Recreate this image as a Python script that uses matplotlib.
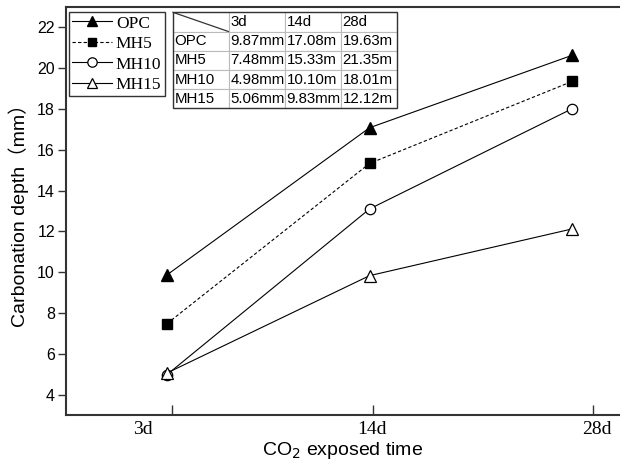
import matplotlib
matplotlib.use("Agg")
import matplotlib.pyplot as plt
from matplotlib.ticker import FixedLocator, NullFormatter, FixedFormatter

ages = ["3d", "14d", "28d"]
opc = [9.87, 17.08, 20.63]
mh5 = [7.48, 15.33, 19.35]
mh10 = [4.98, 13.10, 18.01]
mh15 = [5.06, 9.83, 12.12]

# values shown in the inset table
table_rows = ["OPC", "MH5", "MH10", "MH15"]
table_cells = [
    ["9.87mm", "17.08m", "19.63m"],
    ["7.48mm", "15.33m", "21.35m"],
    ["4.98mm", "10.10m", "18.01m"],
    ["5.06mm", "9.83mm", "12.12m"],
]

serif = "Liberation Serif"
sans = ["Liberation Sans", "Noto Sans CJK SC"]

fig = plt.figure(figsize=(6.2, 4.74), dpi=100)
ax = fig.add_axes([66 / 620, 59 / 474, 554 / 620, 408 / 474])

x = list(range(len(ages)))
lw = 0.8
ax.plot(x, opc, color="black", lw=lw, marker="^", ms=8, mfc="black", mec="black", label="OPC")
ax.plot(x, mh5, color="black", lw=lw, ls=(0, (3, 2)), marker="s", ms=6.5, mfc="black", mec="black", label="MH5")
ax.plot(x, mh10, color="black", lw=lw, marker="o", ms=7.5, mfc="white", mec="black", mew=0.9, label="MH10")
ax.plot(x, mh15, color="black", lw=lw, marker="^", ms=8.5, mfc="white", mec="black", mew=0.9, label="MH15")

ax.set_xlim(-0.499, 2.237)
ax.set_ylim(3, 23)
ax.set_yticks(range(4, 23, 2))

# tick marks and their labels sit at slightly different spots
ax.xaxis.set_major_locator(FixedLocator([0.023, 1.019, 2.102]))
ax.xaxis.set_major_formatter(NullFormatter())
ax.xaxis.set_minor_locator(FixedLocator([-0.118, 1.012, 2.123]))
ax.xaxis.set_minor_formatter(FixedFormatter(ages))
ax.tick_params(axis="x", which="major", direction="in", length=7, width=1, color="#333333")
ax.tick_params(axis="x", which="minor", length=0, pad=4, labelsize=14)
for t in ax.get_xticklabels(minor=True):
    t.set_fontfamily(serif)
ax.tick_params(axis="y", direction="out", length=6, width=1, color="#333333", labelsize=11.5, pad=2)
for t in ax.get_yticklabels():
    t.set_fontfamily(sans)

for side in ["left", "bottom", "top"]:
    ax.spines[side].set_linewidth(1.5)
    ax.spines[side].set_color("#333333")
ax.spines["right"].set_visible(False)

ax.set_ylabel("Carbonation depth（mm）", fontsize=14, family=sans, labelpad=6)
ax.set_xlabel("CO$_2$ exposed time", fontsize=14, family=sans, labelpad=2)

leg = ax.legend(loc="upper left", bbox_to_anchor=(0.0054, 0.988), borderaxespad=0,
                prop={"family": serif, "size": 12.5}, frameon=True, fancybox=False,
                edgecolor="black", handlelength=2.3, handletextpad=0.2,
                borderpad=0.2, labelspacing=0.25, markerscale=0.9)
leg.get_frame().set_linewidth(1.0)

# inset table
cell_text = [["", "3d", "14d", "28d"]] + [[r] + c for r, c in zip(table_rows, table_cells)]
tb = ax.table(cellText=cell_text, cellLoc="left", bbox=[0.193, 0.7517, 0.4045, 0.2353])
tb.auto_set_font_size(False)
for (r, c), cell in tb.get_celld().items():
    cell.set_edgecolor("#bbbbbb")
    cell.set_linewidth(0.8)
    cell.PAD = 0.03
    cell.get_text().set_fontsize(10.8)
    cell.get_text().set_fontfamily(sans)
ax.add_patch(plt.Rectangle((0.193, 0.7517), 0.4045, 0.2353, transform=ax.transAxes,
                           fill=False, edgecolor="#333333", lw=1.0, zorder=10))
ax.plot([0.193, 0.293], [0.987, 0.940], transform=ax.transAxes, color="#333333", lw=0.9, zorder=10)

fig.savefig("out.png", dpi=100)
